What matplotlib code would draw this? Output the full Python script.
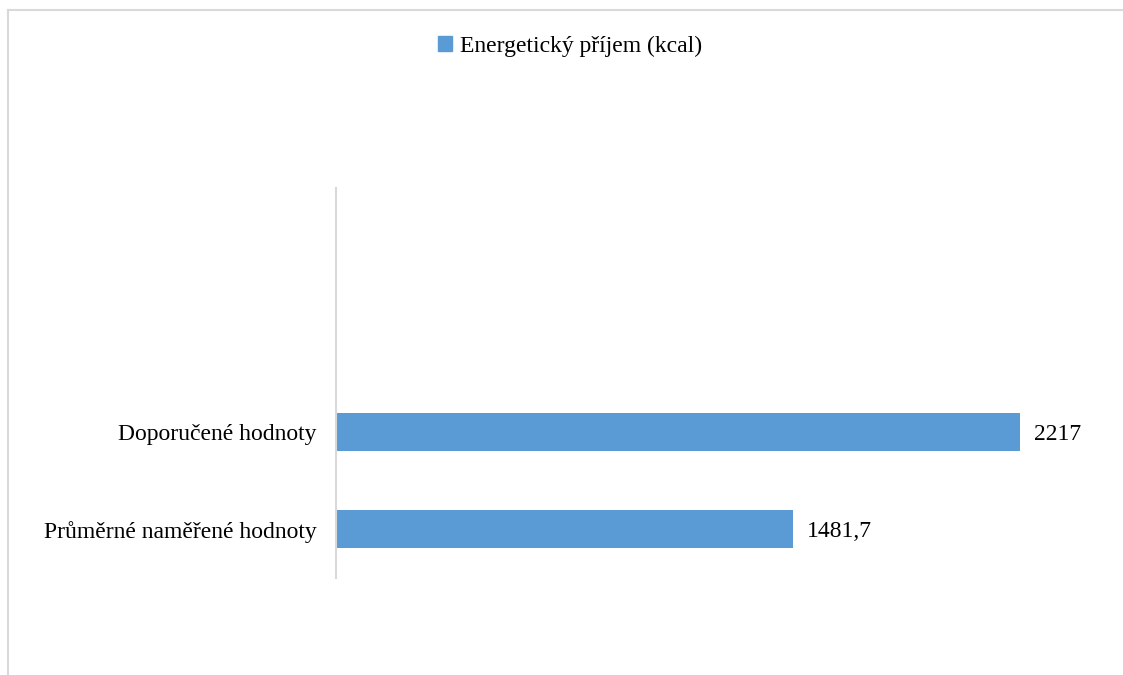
import matplotlib
matplotlib.use("Agg")
import matplotlib.pyplot as plt
from matplotlib.lines import Line2D
from matplotlib.patches import Patch

categories = ["Průměrné naměřené hodnoty", "Doporučené hodnoty", "", ""]
values = [1481.7, 2217, None, None]
value_labels = ["1481,7", "2217", "", ""]
series_name = "Energetický příjem (kcal)"

plt.rcParams['font.family'] = ['Liberation Serif', 'DejaVu Serif']
W, H = 1123, 675
fig = plt.figure(figsize=(W/100, H/100), dpi=100)
ax = fig.add_axes([336/W, 1-578/H, 771/W, 390/H])

color = '#5b9bd5'
FS = 17
ypos = list(range(len(categories)))
for y, v, lab in zip(ypos, values, value_labels):
    if v is None:
        continue
    ax.barh(y, v, height=0.39, color=color)
    ax.text(v + 45, y, lab, va='center_baseline', ha='left', fontsize=FS, color='black')

ax.set_xlim(0, 2500)
ax.set_ylim(-0.5, len(categories)-0.5)
ax.set_yticks(ypos)
ax.set_yticklabels(categories, fontsize=FS, va='center_baseline')
ax.tick_params(axis='y', length=0, pad=14)
ax.set_xticks([])
for s in ['top', 'right', 'bottom']:
    ax.spines[s].set_visible(False)
ax.spines['left'].set_color('#d9d9d9')
ax.spines['left'].set_linewidth(1.5)

fig.legend(handles=[Patch(color=color, label=series_name)], loc='center',
           bbox_to_anchor=(570/W, 1-46/H), frameon=False, fontsize=FS,
           handlelength=0.6, handleheight=0.6, handletextpad=0.3)

fig.add_artist(Line2D([8/W, 8/W], [0, 1-10/H], color='#d9d9d9', lw=1.5))
fig.add_artist(Line2D([8/W, 1], [1-10/H, 1-10/H], color='#d9d9d9', lw=1.5))

fig.savefig('out.png', dpi=100, facecolor='white')
